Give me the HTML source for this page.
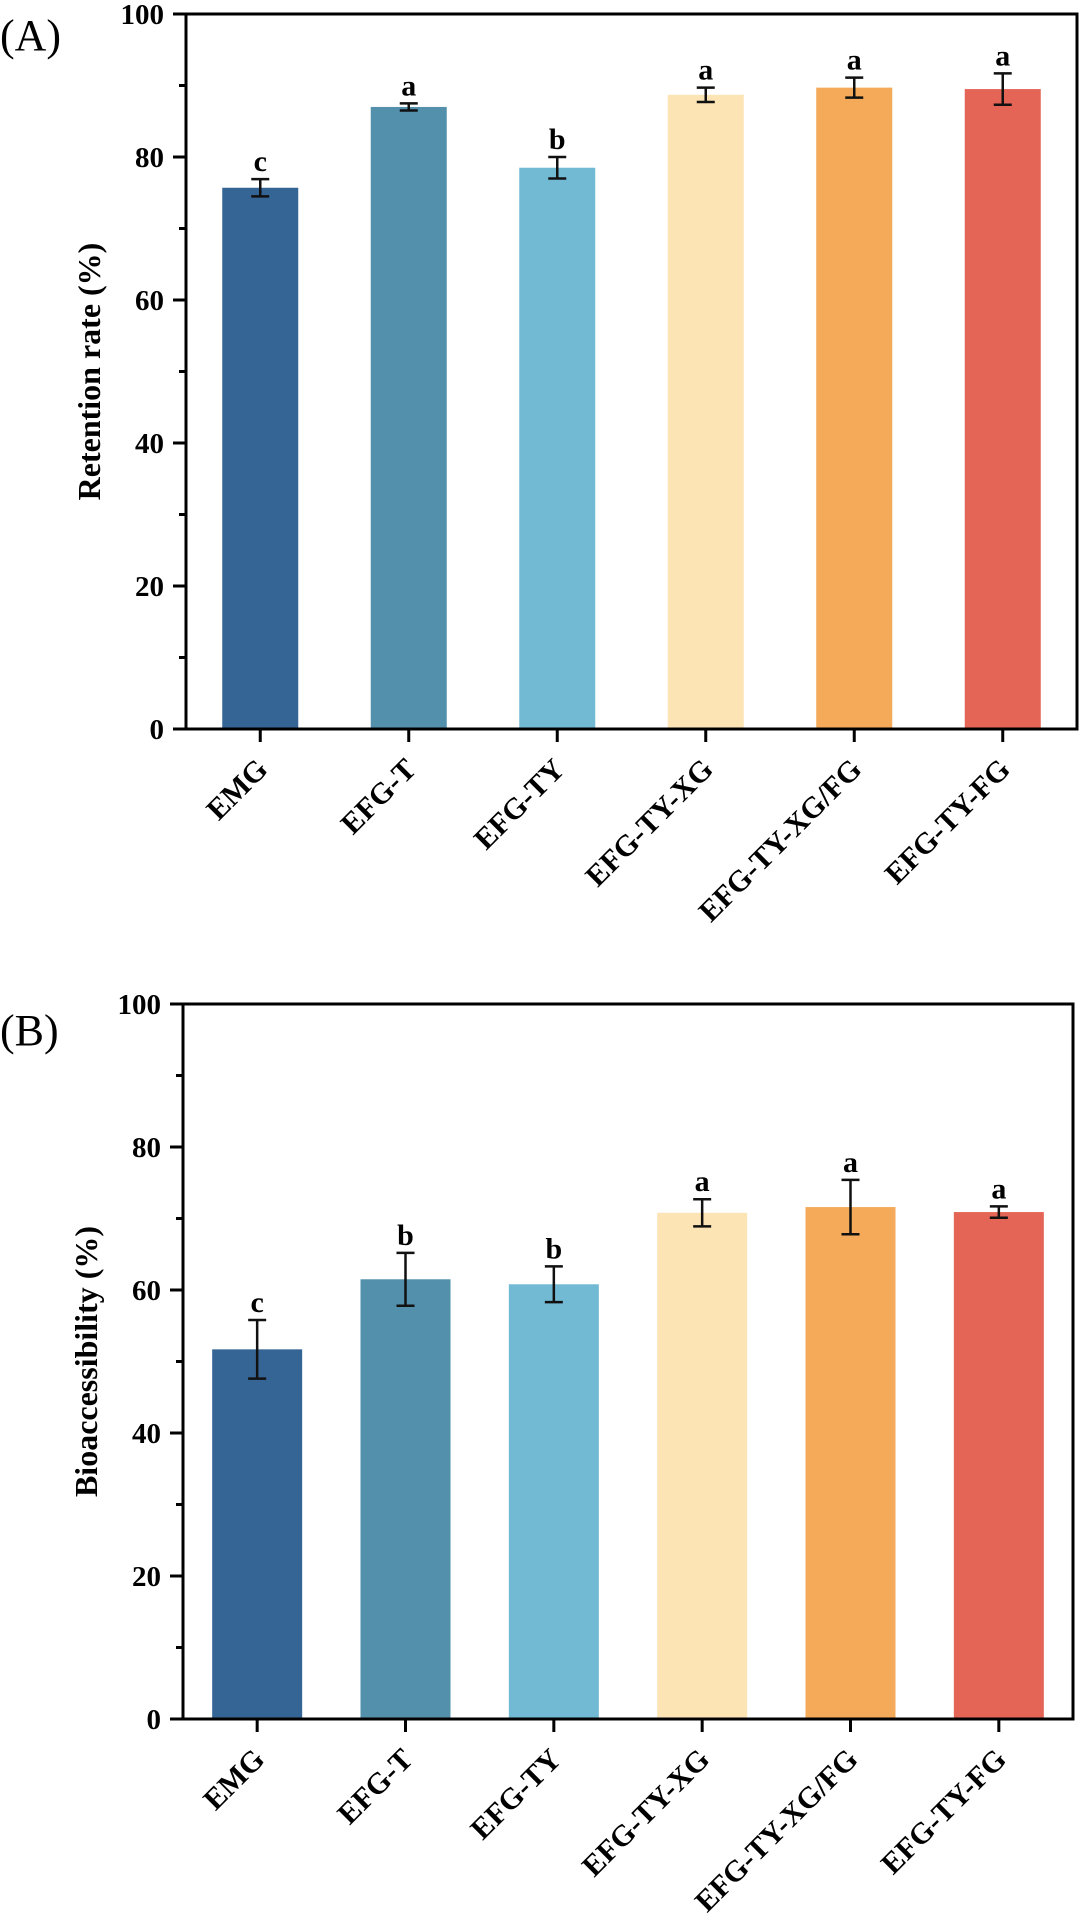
<!DOCTYPE html>
<html><head><meta charset="utf-8"><style>
html,body{margin:0;padding:0;background:#fff;}
svg{display:block;font-family:"Liberation Serif",serif;}
</style></head><body>
<svg id="chart" width="1080" height="1925" viewBox="0 0 1080 1925" xmlns="http://www.w3.org/2000/svg"></svg>
<script>
const categories = ["EMG","EFG-T","EFG-TY","EFG-TY-XG","EFG-TY-XG/FG","EFG-TY-FG"];
const retentionValues = [75.7, 87.0, 78.5, 88.7, 89.7, 89.5];
const retentionErrors = [1.2, 0.5, 1.5, 1.0, 1.4, 2.2];
const retentionLetters = ["c","a","b","a","a","a"];
const bioValues = [51.7, 61.5, 60.8, 70.8, 71.6, 70.9];
const bioErrors = [4.1, 3.7, 2.5, 1.9, 3.8, 0.8];
const bioLetters = ["c","b","b","a","a","a"];
const yTicks = [0, 20, 40, 60, 80, 100];
const yMinorTicks = [10, 30, 50, 70, 90];
const colors = ["#356594","#5390ac","#72b9d4","#fde4b4","#f4aa58","#e46455"];

const NS = "http://www.w3.org/2000/svg";
const svg = document.getElementById("chart");
function mk(tag, attrs, parent){const e=document.createElementNS(NS,tag);for(const k in attrs)e.setAttribute(k,attrs[k]);(parent||svg).appendChild(e);return e;}

function panel(cfg){
  const g = mk("g",{});
  
  
  const L=cfg.left,R=cfg.right,T=cfg.top,B=cfg.bottom;
  const y = v => B - (v/100)*(B-T);
  const step = (R-L)/categories.length;
  const x = i => L + step*(i+0.5);
  categories.forEach((c,i)=>{
    const v=cfg.values[i], e=cfg.errors[i];
    const r=mk("rect",{x:x(i)-cfg.bw/2,y:y(v),width:cfg.bw,height:B-y(v),fill:colors[i]},g);
    
    
    const eb=mk("path",{d:`M${x(i)} ${y(v+e)}V${y(v-e)}M${x(i)-9} ${y(v+e)}H${x(i)+9}M${x(i)-9} ${y(v-e)}H${x(i)+9}`,stroke:"#111","stroke-width":2.5,fill:"none"},g);
    
    
    const lt=mk("text",{x:x(i),y:y(v+e)-8,"text-anchor":"middle","font-size":30,"font-weight":"bold",fill:"#000"},g);
    lt.textContent=cfg.letters[i];
    
    
    const tk=mk("line",{x1:x(i),x2:x(i),y1:B,y2:B+13,stroke:"#000","stroke-width":3},g);
    
    
    const tl=mk("text",{transform:`translate(${x(i)+9},${B+42}) rotate(-45)`,"text-anchor":"end","font-size":30,"font-weight":"bold",fill:"#000"},g);
    tl.textContent=c;
    
    
  });
  const fr=mk("rect",{x:L,y:T,width:R-L,height:B-T,fill:"none",stroke:"#000","stroke-width":3},g);
  
  
  yTicks.forEach(t=>{
    const l=mk("line",{x1:L-13,x2:L,y1:y(t),y2:y(t),stroke:"#000","stroke-width":3},g);
    
    
    const tx=mk("text",{x:L-22,y:y(t)+10,"text-anchor":"end","font-size":29,"font-weight":"bold",fill:"#000"},g);
    tx.textContent=t;
    
    
  });
  yMinorTicks.forEach(t=>{
    const l=mk("line",{x1:L-7,x2:L,y1:y(t),y2:y(t),stroke:"#000","stroke-width":3},g);
    
    
  });
  const yt=mk("text",{transform:`translate(${L-86},${(T+B)/2}) rotate(-90)`,"text-anchor":"middle","font-size":32,"font-weight":"bold",fill:"#000"},g);
  yt.textContent=cfg.ylabel;
  
  
  const pl=mk("text",{x:0,y:cfg.labelY,"font-size":44,fill:"#000"},g);
  pl.textContent=cfg.panelLabel;
  
  
}
panel({name:"panel-a-retention-chart",left:186,right:1077,top:14,bottom:729,bw:76,values:retentionValues,errors:retentionErrors,letters:retentionLetters,ylabel:"Retention rate (%)",panelLabel:"(A)",labelY:50});
panel({name:"panel-b-bioaccessibility-chart",left:183,right:1073,top:1004,bottom:1719,bw:90,values:bioValues,errors:bioErrors,letters:bioLetters,ylabel:"Bioaccessibility (%)",panelLabel:"(B)",labelY:1045});
</script>
</body></html>
